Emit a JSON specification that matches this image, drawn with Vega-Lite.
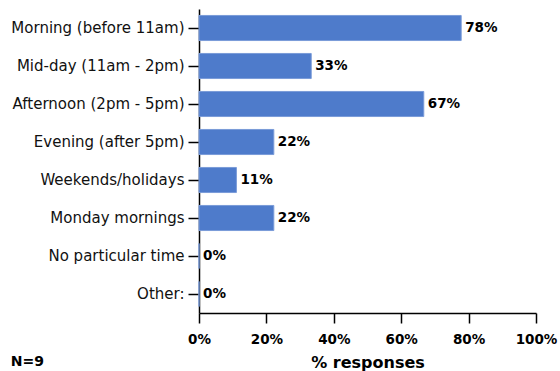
{
  "$schema": "https://vega.github.io/schema/vega-lite/v6.json",
  "width": 337,
  "height": 304,
  "padding": {"left": 10, "top": 9, "right": 2, "bottom": 0},
  "background": "white",
  "config": {"view": {"stroke": null}, "font": "DejaVu Sans"},
  "title": {"text": "N=9", "orient": "bottom", "anchor": "start", "frame": "bounds", "fontSize": 14, "fontWeight": "bold", "color": "black", "offset": -16},
  "data": {"values": [
    {"time": "Morning (before 11am)", "pct": 0.778},
    {"time": "Mid-day (11am - 2pm)", "pct": 0.333},
    {"time": "Afternoon (2pm - 5pm)", "pct": 0.667},
    {"time": "Evening (after 5pm)", "pct": 0.222},
    {"time": "Weekends/holidays", "pct": 0.111},
    {"time": "Monday mornings", "pct": 0.222},
    {"time": "No particular time", "pct": 0},
    {"time": "Other:", "pct": 0}
  ]},
  "encoding": {
    "y": {"field": "time", "type": "nominal", "sort": null,
      "scale": {"paddingInner": 0.34, "paddingOuter": 0.17},
      "axis": {"title": null, "labelFontSize": 15, "labelColor": "#111", "domainColor": "black", "domainWidth": 1.5, "tickColor": "black", "tickWidth": 1.5, "tickSize": 11, "labelPadding": 4}},
    "x": {"field": "pct", "type": "quantitative",
      "scale": {"domain": [0, 1]},
      "axis": {"title": "% responses", "format": ".0%", "values": [0, 0.2, 0.4, 0.6, 0.8, 1], "grid": false, "labelFlush": false, "labelFontSize": 13.5, "labelFontWeight": "bold", "labelColor": "black", "titleFontSize": 16, "titleFontWeight": "bold", "titleColor": "black", "domainColor": "black", "domainWidth": 1.5, "tickColor": "black", "tickWidth": 1.5, "tickSize": 10, "labelPadding": 9, "titlePadding": 9}}
  },
  "layer": [
    {"mark": {"type": "bar", "color": "#4E7BCB", "stroke": "#7A9BD8", "strokeWidth": 1}},
    {"mark": {"type": "text", "align": "left", "dx": 4, "fontSize": 13.5, "fontWeight": "bold", "color": "black"},
     "encoding": {"text": {"field": "pct", "type": "quantitative", "format": ".0%"}}}
  ]
}
